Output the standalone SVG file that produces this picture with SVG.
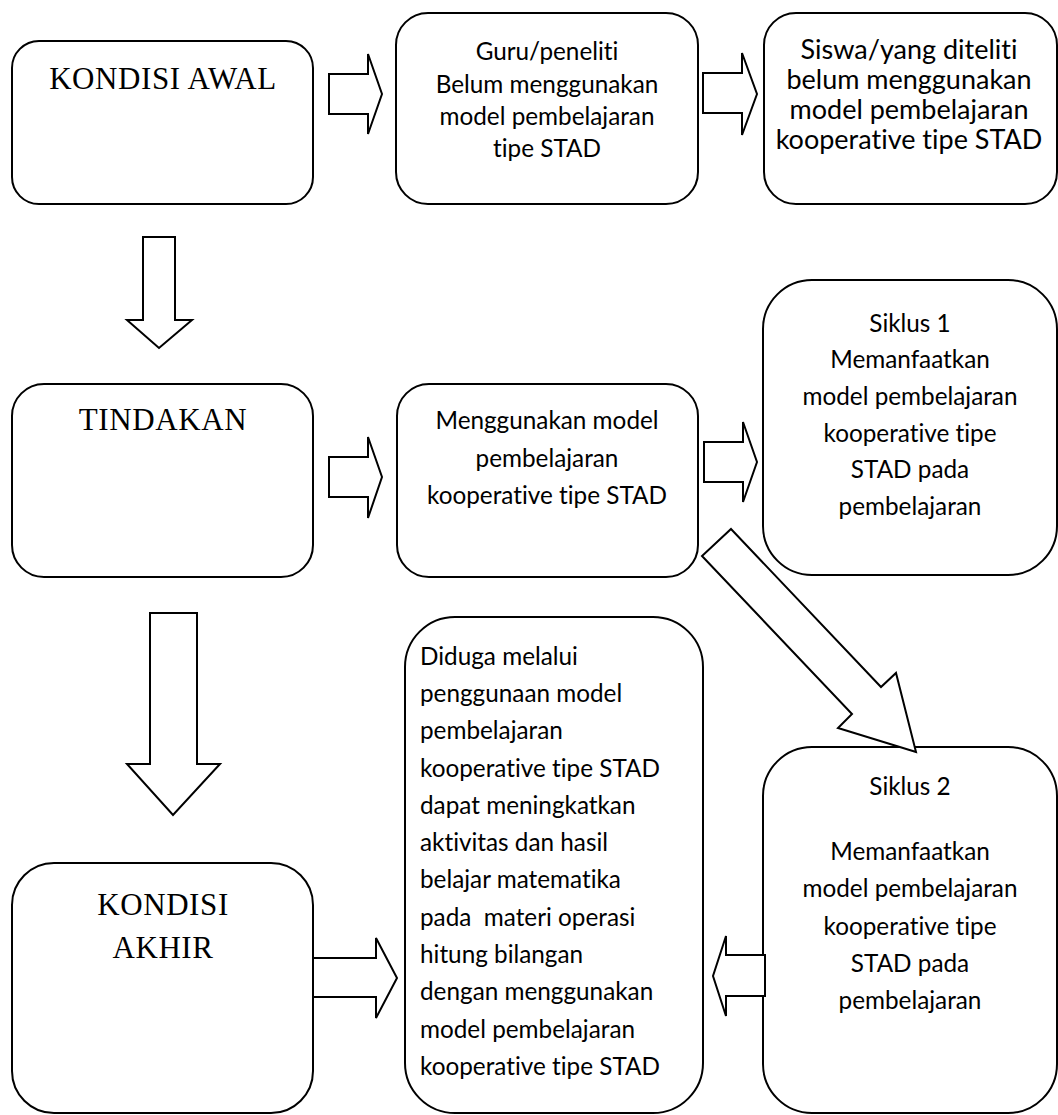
<svg xmlns="http://www.w3.org/2000/svg" width="1058" height="1115" viewBox="0 0 1058 1115">
<style>
.box{fill:#fff;stroke:#000;stroke-width:2}
.arr{fill:#fff;stroke:#000;stroke-width:2;stroke-linejoin:miter}
.tnr{font-family:"Liberation Serif","Times New Roman",serif;font-size:31px;letter-spacing:0.6px;fill:#000;text-anchor:middle}
.cal{font-family:Lato,"Open Sans",sans-serif;font-size:24.3px;fill:#000;text-anchor:middle;font-variant-ligatures:none}
.big{font-size:27px}
.left{text-anchor:start}
</style>
<rect width="1058" height="1115" fill="#fff"/>
<g id="kondisi-awal">
<rect class="box" x="12" y="41" width="301" height="163" rx="27"/>
<text class="tnr" x="163" y="89">KONDISI AWAL</text>
</g>
<g id="guru">
<rect class="box" x="396" y="13" width="302" height="191" rx="32"/>
<text class="cal"><tspan x="547" y="60">Guru/peneliti</tspan><tspan x="547" y="93">Belum menggunakan</tspan><tspan x="547" y="125">model pembelajaran</tspan><tspan x="547" y="157">tipe STAD</tspan></text>
</g>
<g id="siswa">
<rect class="box" x="764" y="13" width="293" height="191" rx="32"/>
<text class="cal big"><tspan x="909" y="59">Siswa/yang diteliti</tspan><tspan x="909" y="89">belum menggunakan</tspan><tspan x="909" y="119">model pembelajaran</tspan><tspan x="909" y="149">kooperative tipe STAD</tspan></text>
</g>
<g id="tindakan">
<rect class="box" x="12" y="384" width="301" height="193" rx="32"/>
<text class="tnr" x="163" y="430">TINDAKAN</text>
</g>
<g id="menggunakan">
<rect class="box" x="397" y="384" width="301" height="193" rx="32"/>
<text class="cal"><tspan x="547" y="429">Menggunakan model</tspan><tspan x="547" y="467">pembelajaran</tspan><tspan x="547" y="504">kooperative tipe STAD</tspan></text>
</g>
<g id="siklus1">
<rect class="box" x="763" y="280" width="294" height="295" rx="49"/>
<text class="cal"><tspan x="910" y="332">Siklus 1</tspan><tspan x="910" y="368">Memanfaatkan</tspan><tspan x="910" y="405">model pembelajaran</tspan><tspan x="910" y="442">kooperative tipe</tspan><tspan x="910" y="478">STAD pada</tspan><tspan x="910" y="515">pembelajaran</tspan></text>
</g>
<g id="kondisi-akhir">
<rect class="box" x="12" y="863" width="301" height="250" rx="42"/>
<text class="tnr"><tspan x="163" y="915">KONDISI</tspan><tspan x="163" y="958">AKHIR</tspan></text>
</g>
<g id="diduga">
<rect class="box" x="405" y="617" width="298" height="496" rx="50"/>
<text class="cal left"><tspan x="420" y="665">Diduga melalui</tspan><tspan x="420" y="702">penggunaan model</tspan><tspan x="420" y="739">pembelajaran</tspan><tspan x="420" y="777">kooperative tipe STAD</tspan><tspan x="420" y="814">dapat meningkatkan</tspan><tspan x="420" y="851">aktivitas dan hasil</tspan><tspan x="420" y="888">belajar matematika</tspan><tspan x="420" y="926" xml:space="preserve">pada  materi operasi</tspan><tspan x="420" y="963">hitung bilangan</tspan><tspan x="420" y="1000">dengan menggunakan</tspan><tspan x="420" y="1038">model pembelajaran</tspan><tspan x="420" y="1075">kooperative tipe STAD</tspan></text>
</g>
<g id="siklus2">
<rect class="box" x="763" y="747" width="294" height="366" rx="49"/>
<text class="cal"><tspan x="910" y="795">Siklus 2</tspan><tspan x="910" y="860">Memanfaatkan</tspan><tspan x="910" y="897">model pembelajaran</tspan><tspan x="910" y="935">kooperative tipe</tspan><tspan x="910" y="972">STAD pada</tspan><tspan x="910" y="1009">pembelajaran</tspan></text>
</g>
<g id="connectors">
<polygon class="arr" points="329,74 368,74 368,54 382,94 368,134 368,114 329,114"/>
<polygon class="arr" points="703,73 742,73 742,53 757,94 742,135 742,113 703,113"/>
<polygon class="arr" points="143,237 175,237 175,320 192,320 159,348 127,320 143,320"/>
<polygon class="arr" points="329,457 368,457 368,437 382,477 368,518 368,497 329,497"/>
<polygon class="arr" points="704,442 743,442 743,422 757,462 743,502 743,482 704,482"/>
<polygon class="arr" points="731,529 881,687 896,673 916,752 838,728 852,714 702,556"/>
<polygon class="arr" points="150,613 197,613 197,764 220,764 173,815 127,764 150,764"/>
<polygon class="arr" points="313,958 376,958 376,938 397,978 376,1018 376,997 313,997"/>
<polygon class="arr" points="765,955 726,955 726,936 713,976 726,1016 726,996 765,996"/>
</g>
</svg>
